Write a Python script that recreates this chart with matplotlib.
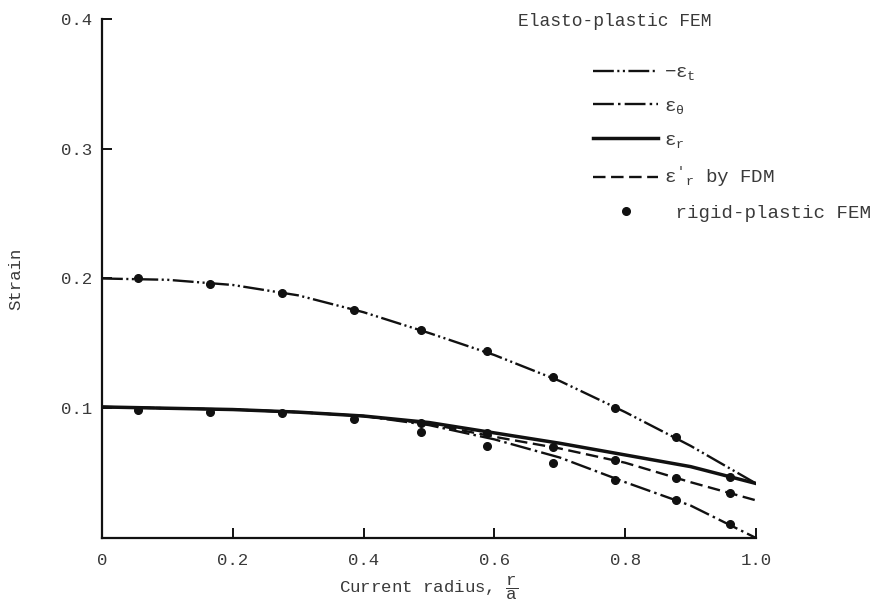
import matplotlib
matplotlib.use('Agg')
import matplotlib.pyplot as plt

plt.rcParams['font.family'] = ['Liberation Mono', 'DejaVu Sans']
plt.rcParams['mathtext.fontset'] = 'custom'
plt.rcParams['mathtext.rm'] = 'Liberation Mono'
plt.rcParams['mathtext.it'] = 'Liberation Mono'
plt.rcParams['mathtext.bf'] = 'Liberation Mono:bold'
plt.rcParams['lines.scale_dashes'] = False

INK = '#111111'
TXT = '#3a3a3a'

# elasto-plastic FEM curves, strain vs. r/a
r_line = [0.0, 0.1, 0.2, 0.3, 0.4, 0.5, 0.6, 0.7, 0.8, 0.9, 1.0]
neg_eps_t = [0.200, 0.199, 0.195, 0.187, 0.174, 0.158, 0.141, 0.121, 0.097, 0.071, 0.042]
eps_theta = [0.101, 0.100, 0.099, 0.097, 0.094, 0.087, 0.076, 0.062, 0.043, 0.025, 0.000]
eps_r = [0.101, 0.100, 0.099, 0.097, 0.094, 0.089, 0.081, 0.073, 0.064, 0.055, 0.042]
eps_r_fdm = [0.101, 0.100, 0.099, 0.097, 0.094, 0.088, 0.078, 0.069, 0.058, 0.043, 0.029]

# rigid-plastic FEM points
r_fem = [0.055, 0.165, 0.275, 0.385, 0.487, 0.588, 0.689, 0.785, 0.878, 0.960]
fem_eps_t = [0.200, 0.196, 0.189, 0.176, 0.160, 0.144, 0.124, 0.100, 0.078, 0.047]
fem_eps_r = [0.099, 0.097, 0.096, 0.092, 0.089, 0.081, 0.070, 0.060, 0.046, 0.035]
r_fem_theta = [0.487, 0.588, 0.689, 0.785, 0.878, 0.960]
fem_eps_theta = [0.082, 0.071, 0.058, 0.045, 0.029, 0.011]

x_ticks = [0, 0.2, 0.4, 0.6, 0.8, 1.0]
x_ticklabels = ['0', '0.2', '0.4', '0.6', '0.8', '1.0']
y_ticks = [0.1, 0.2, 0.3, 0.4]
y_ticklabels = ['0.1', '0.2', '0.3', '0.4']

fig = plt.figure(figsize=(8.83, 6.11), dpi=100)
ax = fig.add_axes([0.1155, 0.1195, 0.7407, 0.8494])

h_t, = ax.plot(r_line, neg_eps_t, color=INK, lw=1.7,
               dashes=(15, 2.5, 1.5, 2.5, 1.5, 2.5), label=r'$-\varepsilon_t$')
h_th, = ax.plot(r_line, eps_theta, color=INK, lw=1.7,
                dashes=(15, 3, 1.8, 3), label=r'$\varepsilon_\theta$')
h_fdm, = ax.plot(r_line, eps_r_fdm, color=INK, lw=1.7,
                 dashes=(9, 4), label=r"$\varepsilon'_r$ by FDM")
h_r, = ax.plot(r_line, eps_r, color=INK, lw=2.5, label=r'$\varepsilon_r$')

h_dot, = ax.plot(r_fem, fem_eps_t, 'o', color=INK, ms=5.5, ls='none',
                 label=' rigid-plastic FEM')
ax.plot(r_fem, fem_eps_r, 'o', color=INK, ms=5.5, ls='none')
ax.plot(r_fem_theta, fem_eps_theta, 'o', color=INK, ms=5.5, ls='none')

ax.set_xlim(0, 1.0)
ax.set_ylim(0, 0.4)
ax.set_xticks(x_ticks)
ax.set_xticklabels(x_ticklabels)
ax.set_yticks(y_ticks)
ax.set_yticklabels(y_ticklabels)
ax.tick_params(direction='in', length=7, width=1.4, color=INK,
               labelsize=12.5, labelcolor=TXT)
ax.tick_params(axis='x', pad=11)
ax.tick_params(axis='y', pad=7)

for side in ('top', 'right'):
    ax.spines[side].set_visible(False)
for side in ('left', 'bottom'):
    ax.spines[side].set_linewidth(1.6)
    ax.spines[side].set_color(INK)

ax.set_ylabel('Strain', fontsize=12.5, color=TXT, labelpad=27)
ax.set_xlabel(r'Current radius, $\dfrac{\mathrm{r}}{\mathrm{a}}$',
              fontsize=12.5, color=TXT, labelpad=4)

fig.text(518 / 883, 1 - 21 / 611, 'Elasto-plastic FEM', fontsize=13,
         color=TXT, ha='left', va='center')
leg = ax.legend([h_t, h_th, h_r, h_fdm, h_dot],
                [h_t.get_label(), h_th.get_label(), h_r.get_label(),
                 h_fdm.get_label(), h_dot.get_label()],
                loc='upper left', bbox_to_anchor=(593 / 883, 1 - 64 / 611),
                bbox_transform=fig.transFigure, frameon=False,
                fontsize=13.8, handlelength=3.4, handletextpad=0.3,
                labelspacing=0.8, borderpad=0, borderaxespad=0)
for t in leg.get_texts():
    t.set_color(TXT)

fig.savefig('out.png', dpi=100)
